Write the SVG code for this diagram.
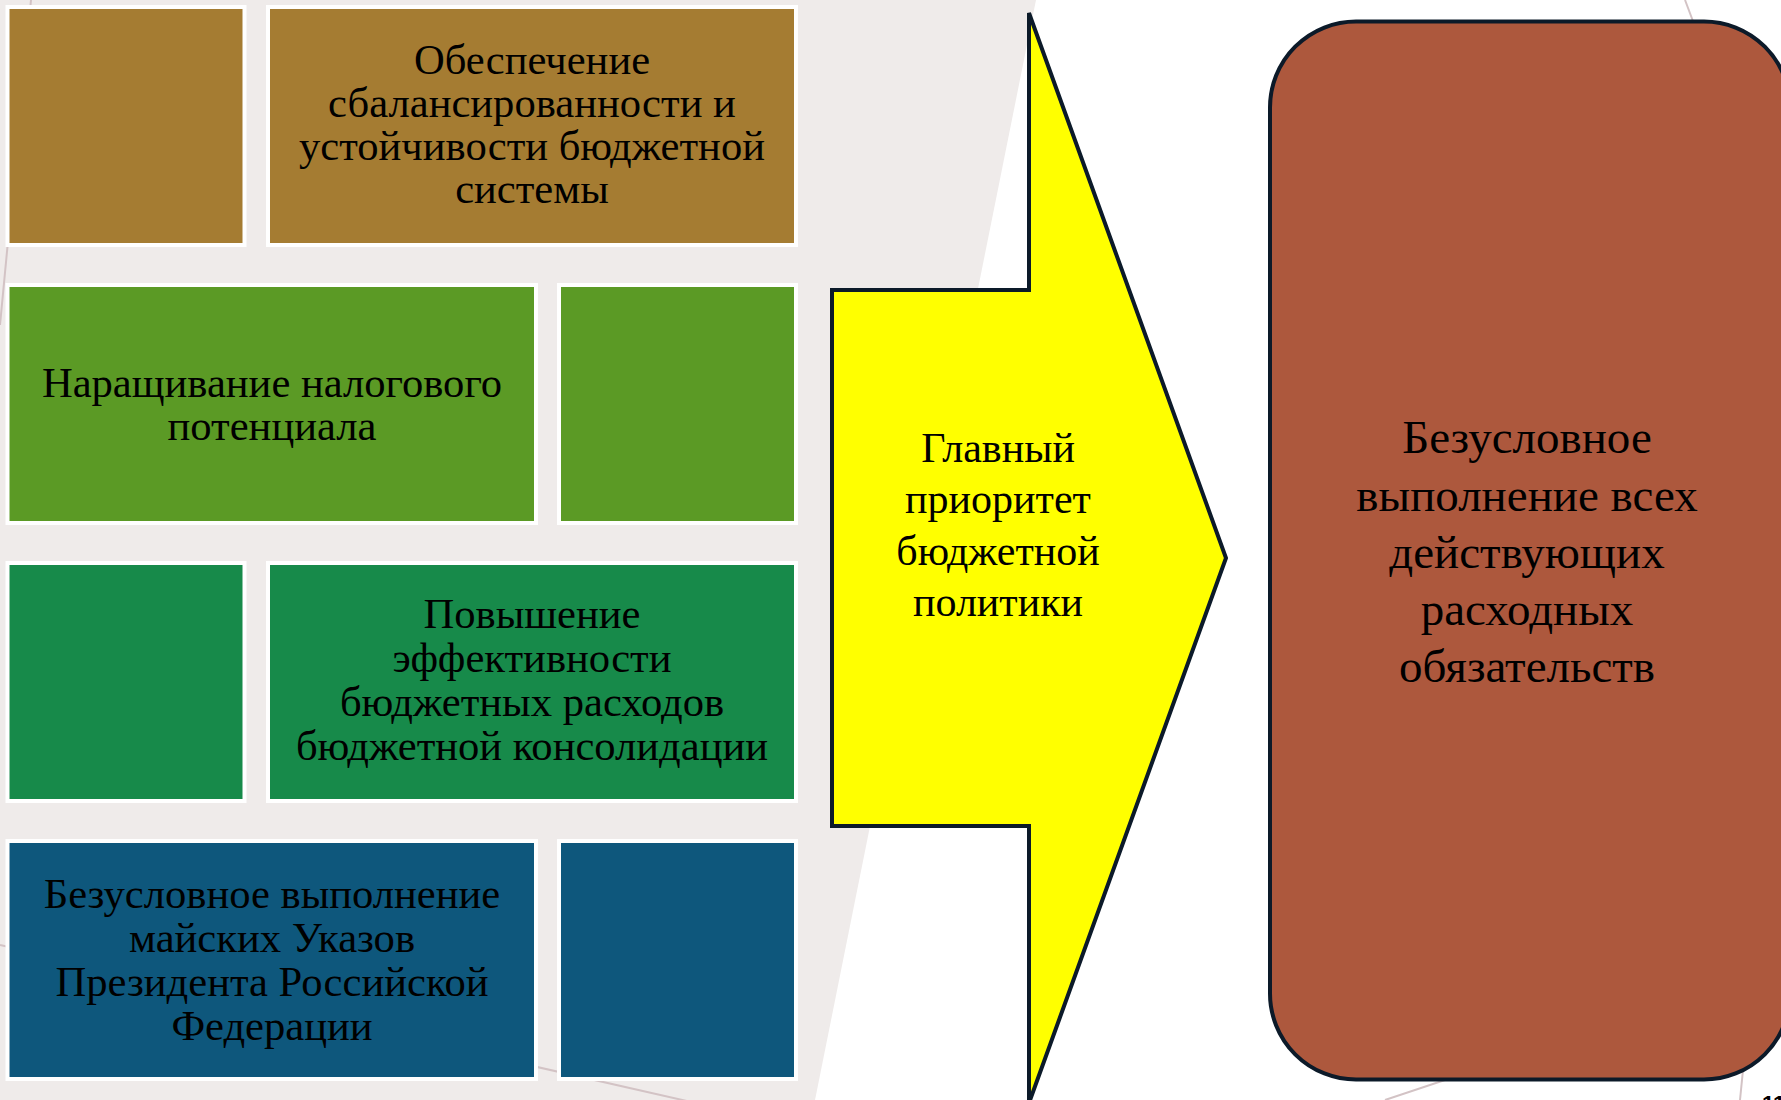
<svg xmlns="http://www.w3.org/2000/svg" width="1781" height="1100" viewBox="0 0 1781 1100">
<style>
.t{font-family:"Liberation Serif","Times New Roman",serif;fill:#000;text-anchor:middle}
.b{font-size:42.6px}
.box{stroke:#fff;stroke-width:4}
.deco{stroke:#D3C3C5;stroke-width:2;fill:none}
.dark{stroke:#0C1A29;stroke-width:4}
</style>
<rect width="1781" height="1100" fill="#fff"/>
<polygon points="0,0 1036,0 815,1100 0,1100" fill="#EFEBEA"/>
<g id="deco-lines">
<line class="deco" x1="31" y1="0" x2="0" y2="325"/>
<line class="deco" x1="0" y1="945" x2="700" y2="1104"/>
<line class="deco" x1="1385" y1="1100" x2="1520" y2="1055"/>
<line class="deco" x1="1685" y1="0" x2="1700" y2="40"/>
<line class="deco" x1="1746" y1="1040" x2="1740" y2="1100"/>
</g>
<g id="row1-left"><rect class="box" x="7.5" y="7" width="237" height="238" fill="#A57C32"/></g>
<g id="row1-right"><rect class="box" x="268" y="7" width="528" height="238" fill="#A57C32"/>
<text class="t b"><tspan x="532" y="74">Обеспечение</tspan><tspan x="532" y="117">сбалансированности и</tspan><tspan x="532" y="160">устойчивости бюджетной</tspan><tspan x="532" y="203">системы</tspan></text></g>
<g id="row2-left"><rect class="box" x="7.5" y="285" width="528.5" height="238" fill="#5B9A25"/>
<text class="t b"><tspan x="272" y="397">Наращивание налогового</tspan><tspan x="272" y="440">потенциала</tspan></text></g>
<g id="row2-right"><rect class="box" x="559" y="285" width="237" height="238" fill="#5B9A25"/></g>
<g id="row3-left"><rect class="box" x="7.5" y="563" width="237" height="238" fill="#178A4A"/></g>
<g id="row3-right"><rect class="box" x="268" y="563" width="528" height="238" fill="#178A4A"/>
<text class="t b"><tspan x="532" y="628">Повышение</tspan><tspan x="532" y="672">эффективности</tspan><tspan x="532" y="716">бюджетных расходов</tspan><tspan x="532" y="760">бюджетной консолидации</tspan></text></g>
<g id="row4-left"><rect class="box" x="7.5" y="841" width="528.5" height="238" fill="#0E577C"/>
<text class="t b"><tspan x="272" y="908">Безусловное выполнение</tspan><tspan x="272" y="952">майских Указов</tspan><tspan x="272" y="996">Президента Российской</tspan><tspan x="272" y="1040">Федерации</tspan></text></g>
<g id="row4-right"><rect class="box" x="559" y="841" width="237" height="238" fill="#0E577C"/></g>
<g id="arrow"><polygon class="dark" points="832,290 1029,290 1029,13 1226,558 1029,1103 1029,826 832,826" fill="#FFFF00"/>
<text class="t" font-size="42"><tspan x="998" y="462">Главный</tspan><tspan x="998" y="513">приоритет</tspan><tspan x="998" y="565">бюджетной</tspan><tspan x="998" y="616">политики</tspan></text></g>
<g id="result"><rect class="dark" x="1270" y="21.5" width="520" height="1058" rx="86" ry="86" fill="#AD583D"/>
<text class="t" font-size="47"><tspan x="1527" y="453">Безусловное</tspan><tspan x="1527" y="511">выполнение всех</tspan><tspan x="1527" y="568">действующих</tspan><tspan x="1527" y="625">расходных</tspan><tspan x="1527" y="682">обязательств</tspan></text></g>
<text x="1762" y="1111" font-family="Liberation Sans, Arial, sans-serif" font-size="22" font-weight="bold" fill="#000">11</text>
</svg>
